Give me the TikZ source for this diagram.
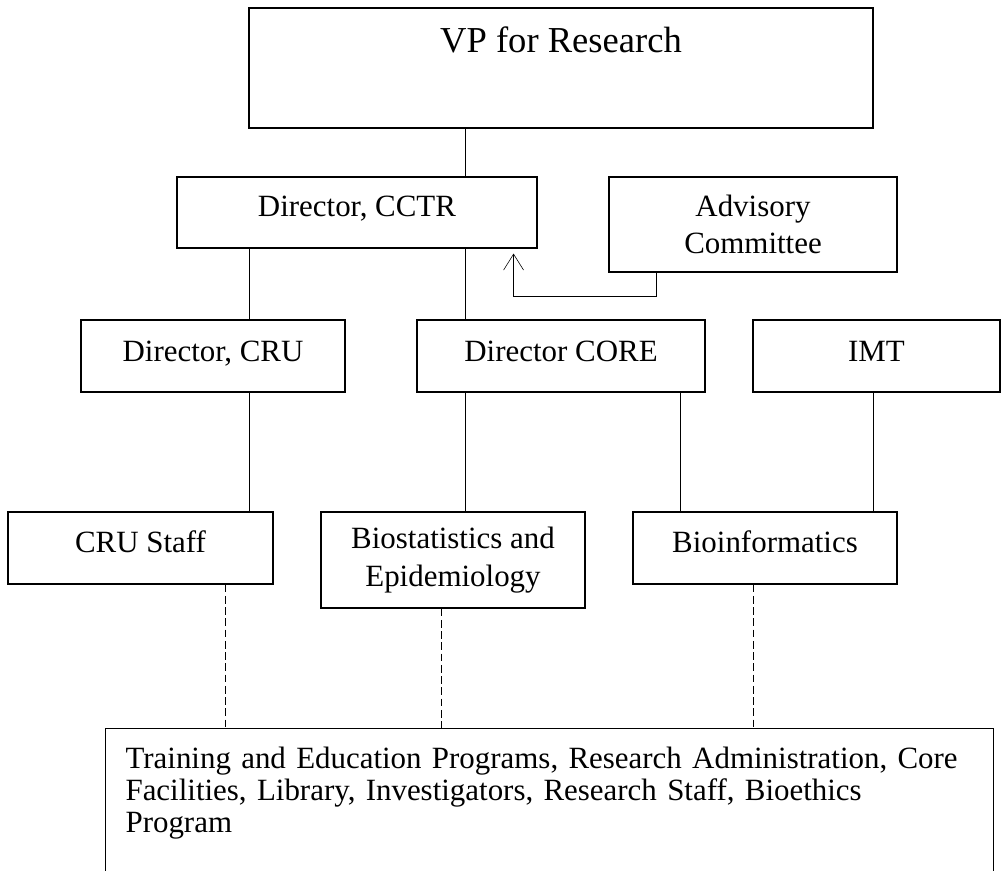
\documentclass[tikz,border=0pt]{standalone}
\usepackage{fontspec}
\setmainfont{Liberation Serif}
\usetikzlibrary{arrows.meta,calc,positioning}
\tikzset{
    line width=0.7pt,
    box/.style = {rectangle, draw, line width=0.8pt, inner xsep=0pt, inner ysep=0pt,
                  align=center, font=\fontsize{22}{26}\selectfont},
    onebox/.style = {box, text height=1cm, text depth=0.8cm},
    link/.style = {dash pattern=on 5.5pt off 2.5pt},
    feedback/.style = {-{Straight Barb[length=0.4cm,width=0.5cm]}, shorten >=0.125cm}
}

\begin{document}
\begin{tikzpicture}
  \useasboundingbox (0,0) rectangle (25.2,-21.775);

  \node (vp) at (14.025,-1.7) [box, minimum width=15.6cm, text height=1.125cm,
                               text depth=1.875cm, font=\fontsize{26}{30}\selectfont] {VP for Research};
  \node (cctr) at (8.925,-5.3125) [box, minimum width=9cm, text height=1cm,
                                   text depth=0.775cm] {Director, CCTR};
  \node (adv) at (18.825,-5.6125) [box, minimum width=7.2cm, minimum height=2.375cm,
                                   font=\fontsize{22}{26.3}\selectfont] {Advisory\\Committee};
  \node (cru) at (5.325,-8.9) [box, minimum width=6.6cm, text height=1.05cm,
                               text depth=0.75cm] {Director, CRU};
  \node (core) at (14.025,-8.9) [box, minimum width=7.2cm, text height=1.05cm,
                                 text depth=0.75cm] {Director CORE};
  \node (imt) at (21.9125,-8.9) [box, minimum width=6.175cm, text height=1.05cm,
                                 text depth=0.75cm] {IMT};
  \node (crustaff) at (3.5125,-13.7) [onebox, minimum width=6.625cm] {CRU Staff};
  \node (bio) at (11.325,-14.0) [box, minimum width=6.6cm, minimum height=2.4cm,
                                 font=\fontsize{22}{27}\selectfont] {Biostatistics and\\Epidemiology};
  \node (binf) at (19.125,-13.7) [onebox, minimum width=6.6cm] {Bioinformatics};
  \node (prog) at (2.625,-18.2) [box, anchor=north west, align=left, text width=21.2cm,
                                 inner xsep=0.5cm, text height=1cm, text depth=2.675cm,
                                 font=\fontsize{22}{22.8}\selectfont]
    {Training and Education Programs, Research Administration, Core\\
     Facilities, Library, Investigators, Research Staff, Bioethics\\
     Program};

  % vertical runs
  \coordinate (spine) at (11.625,0);
  \coordinate (cruline) at (6.225,0);
  \coordinate (binfline) at (17.0,0);
  \coordinate (imtline) at (21.825,0);
  \coordinate (d1) at (5.625,0);
  \coordinate (d2) at (11.025,0);
  \coordinate (d3) at (18.825,0);

  \path (vp.south -| spine) edge (cctr.north -| spine);
  \path (cctr.south -| spine) edge (core.north -| spine);
  \path (cctr.south -| cruline) edge (cru.north -| cruline);
  \path (cru.south -| cruline) edge (crustaff.north -| cruline);
  \path (core.south -| spine) edge (bio.north -| spine);
  \path (core.south -| binfline) edge (binf.north -| binfline);
  \path (imt.south -| imtline) edge (binf.north -| imtline);

  \path (crustaff.south -| d1) edge [link] (prog.north -| d1);
  \path (bio.south -| d2) edge [link] (prog.north -| d2);
  \path (binf.south -| d3) edge [link] (prog.north -| d3);

  \draw [feedback] ([xshift=1.2cm]adv.south west) -- ++(0,-0.6)
        -| ([xshift=-0.6cm]cctr.south east);

\end{tikzpicture}
\end{document}
